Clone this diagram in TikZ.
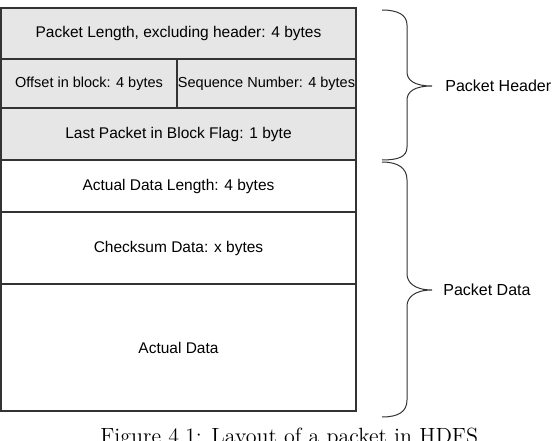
\documentclass[tikz,border=0pt]{standalone}
\usepackage{fontspec}
\newfontfamily\arialfont{Liberation Sans}
\usetikzlibrary{positioning}

\definecolor{hdrgray}{HTML}{E6E6E6}
\definecolor{linegray}{HTML}{333333}

\tikzset{
  field/.style={draw=linegray, line width=0.7pt, outer sep=0pt, inner sep=0pt,
    minimum width=177.5pt, font=\arialfont\fontsize{7.75}{9}\selectfont},
  header/.style={field, fill=hdrgray},
  halfcell/.style={header, minimum height=24.5pt, font=\arialfont\fontsize{7.25}{9}\selectfont},
  bracelbl/.style={anchor=west, inner sep=0pt, font=\arialfont\fontsize{8}{10}\selectfont},
  brace/.style={draw=linegray, line width=0.5pt}
}

\begin{document}
\begin{tikzpicture}[x=0.5pt, y=0.5pt]
  \useasboundingbox (0,0) rectangle (552,440);

  % Packet header fields
  \node[header, minimum height=25.5pt, anchor=north west] (plen) at (1,432) {Packet Length, excluding header: 4 bytes};
  \node[halfcell, minimum width=88pt, below right=0pt and 0pt of plen.south west] (offset) {Offset in block: 4 bytes};
  \node[halfcell, minimum width=89.5pt, right=0pt of offset] (seqno) {Sequence Number: 4 bytes};
  \node[header, minimum height=26pt, below right=0pt and 0pt of offset.south west] (lastflag) {Last Packet in Block Flag: 1 byte};

  % Packet data fields
  \node[field, minimum height=26pt, below=0pt of lastflag] (datalen) {Actual Data Length: 4 bytes};
  \node[field, minimum height=36pt, below=0pt of datalen] (checksum) {Checksum Data: x bytes};
  \node[field, minimum height=63.5pt, below=0pt of checksum] (data) {Actual Data};

  % Header brace
  \draw[brace] (382,430) .. controls (398,430) and (407,425) .. (407,415) -- (407,368)
    .. controls (407,360) and (414,354) .. (432,354)
    .. controls (414,354) and (407,348) .. (407,340) -- (407,293)
    .. controls (407,283) and (398,280) .. (382,280);
  \node[bracelbl] (hdrlbl) at (445,354) {Packet Header};

  % Data brace
  \draw[brace] (382,278) .. controls (398,278) and (407,272) .. (407,260) -- (407,166)
    .. controls (407,158) and (414,150) .. (432,150)
    .. controls (414,150) and (407,142) .. (407,134) -- (407,40)
    .. controls (407,28) and (398,23) .. (382,23);
  \node[bracelbl] (datalbl) at (443,150) {Packet Data};

  % Caption (cut off by the page edge)
  \node[anchor=base west, inner sep=0pt, font=\fontsize{11}{13}\selectfont] (caption) at (100,-3) {Figure 4.1: Layout of a packet in HDFS};
\end{tikzpicture}
\end{document}
